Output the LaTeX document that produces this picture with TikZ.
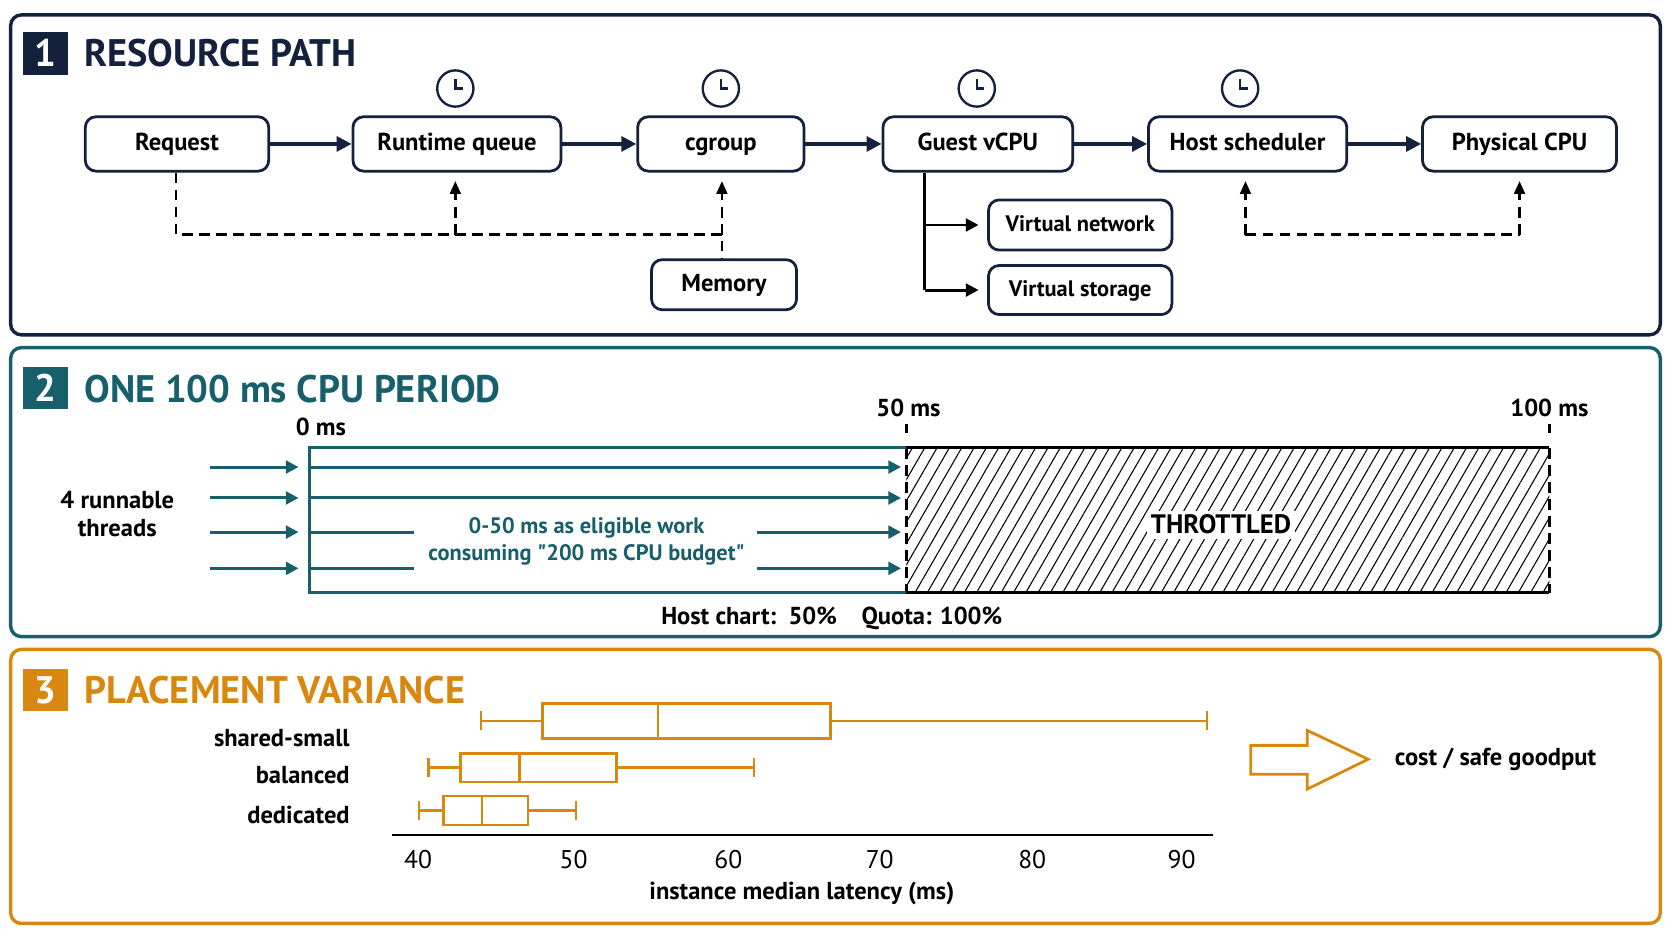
\documentclass[tikz,border=0pt]{standalone}
\usepackage{fontspec}
\setmainfont{PT Sans}
\usetikzlibrary{arrows.meta,patterns.meta}
\definecolor{navy}{HTML}{14213D}
\definecolor{teal2}{HTML}{17606B}
\definecolor{orng}{HTML}{D8880F}
\begin{document}
\begin{tikzpicture}[x=0.5pt,y=-0.5pt,
  panel/.style={draw,line width=1.6pt,rounded corners=5pt},
  badge/.style={minimum width=21pt,minimum height=20pt,inner sep=0pt,text=white,font=\fontsize{18}{18}\selectfont\bfseries},
  ttl/.style={anchor=west,font=\fontsize{18}{18}\selectfont\bfseries},
  box/.style={draw=navy,line width=1.3pt,rounded corners=5pt,font=\fontsize{11.5}{12}\selectfont\bfseries,inner sep=0pt,text height=8pt,text depth=2pt},
  arr/.style={-{Triangle[length=7pt,width=7pt]},line width=1.5pt,navy},
  darr/.style={line width=1.2pt,dash pattern=on 5pt off 3pt},
  clk/.style={draw=navy,line width=1.1pt,circle,minimum size=17pt,inner sep=0pt},
  lbl/.style={font=\fontsize{11.5}{13.5}\selectfont\bfseries},
  tarr/.style={-{Triangle[length=6pt,width=6pt]},line width=1.4pt,teal2},
]
\useasboundingbox (0,0) rectangle (1568,882);
% Panel 1
\draw[panel,navy] (10,14) rectangle (1557,314);
\node[badge,fill=navy] (b1) at (43,50) {1};
\node[ttl,text=navy] (t1) at (72,50) {RESOURCE PATH};
\foreach \n/\a/\b/\t in {req/80/252/Request,rq/331/526/Runtime queue,cg/598/754/cgroup,gv/828/1006/Guest vCPU,hs/1077/1263/Host scheduler,pc/1334/1516/Physical CPU}{
  \node[box,minimum width={(\b-\a)*0.5pt},minimum height=25.5pt] (\n) at ({(\a+\b)/2},135) {\t};
}
\draw[arr] (req) -- (rq); \draw[arr] (rq) -- (cg); \draw[arr] (cg) -- (gv); \draw[arr] (gv) -- (hs); \draw[arr] (hs) -- (pc);
\foreach \n/\x in {c1/427,c2/676,c3/916,c4/1163}{
  \node[clk] (\n) at (\x,83) {};
  \draw[navy,line width=1.1pt] (\n.center) ++(0,-9) -- (\n.center) -- ++(7,0);
}
\node[box,minimum width=68pt,minimum height=23.5pt] (mem) at (679,267) {Memory};
\coordinate (d1) at (165,220); \coordinate (d2) at (427,220); \coordinate (d3) at (677,220);
\draw[darr] (req.south -| d1) -- (d1) -- (d3) -- (mem.north -| d3);
\draw[darr,-{Triangle[length=6pt,width=5pt]}] (d2) -- ([yshift=-4]rq.south -| d2);
\draw[darr,-{Triangle[length=6pt,width=5pt]}] (d3) -- ([yshift=-4]cg.south -| d3);
\node[box,minimum width=86pt,minimum height=23.5pt] (vn) at (1013,211) {\fontsize{10.5}{12}\selectfont Virtual network};
\node[box,minimum width=86pt,minimum height=23pt] (vs) at (1013,272) {\fontsize{10.5}{12}\selectfont Virtual storage};
\coordinate (g1) at (867,211); \coordinate (g2) at (867,272);
\draw[line width=1.4pt] (gv.south -| g1) -- (g2);
\draw[-{Triangle[length=6pt,width=6pt]},line width=1.4pt] (g1) -- ([xshift=-4]vn.west);
\draw[-{Triangle[length=6pt,width=6pt]},line width=1.4pt] (g2) -- ([xshift=-4]vs.west);
\coordinate (h1) at (1168,220); \coordinate (h2) at (1425,220);
\draw[darr,-{Triangle[length=6pt,width=5pt]}] (h1) -- ([yshift=-4]hs.south -| h1);
\draw[darr,-{Triangle[length=6pt,width=5pt]}] (h2) -- ([yshift=-4]pc.south -| h2);
\draw[darr] (h1) -- (h2);
% Panel 2
\draw[panel,teal2] (10,326) rectangle (1557,597);
\node[badge,fill=teal2] (b2) at (43,364) {2};
\node[ttl,text=teal2] (t2) at (72,365) {ONE 100 ms CPU PERIOD};
\node[lbl] (l0) at (301,400) {0 ms};
\node[lbl] (l50) at (852,383) {50 ms};
\node[lbl] (l100) at (1453,383) {100 ms};
\draw[line width=1.2pt,dash pattern=on 4pt off 3pt] (850,398) -- (850,410) (1453,398) -- (1453,410);
\fill[pattern={Lines[angle=60,distance=5pt,line width=0.5pt]}] (850,420) rectangle (1453,556);
\draw[line width=1.3pt] (850,420) -- (1453,420) (850,556) -- (1453,556);
\draw[line width=1.2pt,dash pattern=on 5pt off 3pt] (850,420) -- (850,556) (1453,420) -- (1453,556);
\draw[teal2,line width=1.4pt] (850,420) -- (290,420) -- (290,556) -- (850,556);
\node[lbl,fill=white,inner sep=2pt,font=\fontsize{12.5}{12}\selectfont\bfseries] (thr) at (1145,492) {THROTTLED};
\node[lbl,align=center] (thr4) at (110,482) {4 runnable\\threads};
\node[align=center,text=teal2,font=\fontsize{10.5}{12.5}\selectfont\bfseries] (elig) at (550,508) {0-50 ms as eligible work\\consuming \textquotedbl 200 ms CPU budget\textquotedbl};
\foreach \y in {438,467,499,533}{ \draw[tarr] (197,\y) -- (280,\y); }
\draw[tarr] (290,438) -- (845,438);
\draw[tarr] (290,467) -- (845,467);
\draw[teal2,line width=1.4pt] (290,499) -- (388,499) (290,533) -- (388,533);
\draw[tarr] (710,499) -- (845,499);
\draw[tarr] (710,533) -- (845,533);
\node[lbl] (hc) at (780,580) {Host chart:\ \ 50\%\quad Quota: 100\%};
% Panel 3
\draw[panel,orng] (10,609) rectangle (1557,866);
\node[badge,fill=orng] (b3) at (43,647) {3};
\node[ttl,text=orng] (t3) at (72,647) {PLACEMENT VARIANCE};
\draw[line width=1.3pt] (368,783) -- (1138,783);
\foreach \v/\x in {40/392,50/538,60/683,70/825,80/968,90/1108}{
  \node[lbl,font=\fontsize{12}{12}\selectfont] at (\x,806) {\v};
}
\node[lbl] (axt) at (752,838) {instance median latency (ms)};
\foreach \y/\w/\a/\m/\b/\W/\h in {676/451/509/617/779/1132/33,720/402/432/487/578/707/27,760/393/416/452/495/540/27}{
  \draw[orng,line width=1.2pt] (\w,\y) -- (\a,\y) (\b,\y) -- (\W,\y)
    (\w,\y-9) -- (\w,\y+9) (\W,\y-9) -- (\W,\y+9)
    (\a,\y-\h/2) rectangle (\b,\y+\h/2) (\m,\y-\h/2) -- (\m,\y+\h/2);
}
\node[lbl,anchor=east] (s1) at (335,692) {shared-small};
\node[lbl,anchor=east] (s2) at (335,727) {balanced};
\node[lbl,anchor=east] (s3) at (335,764) {dedicated};
\draw[orng,line width=1.3pt,line join=miter] (1173,699) -- (1226,699) -- (1226,685) -- (1283,712) -- (1226,740) -- (1226,726) -- (1173,726) -- cycle;
\node[lbl,anchor=west] (cg2) at (1301,712) {cost / safe goodput};
\end{tikzpicture}
\end{document}
